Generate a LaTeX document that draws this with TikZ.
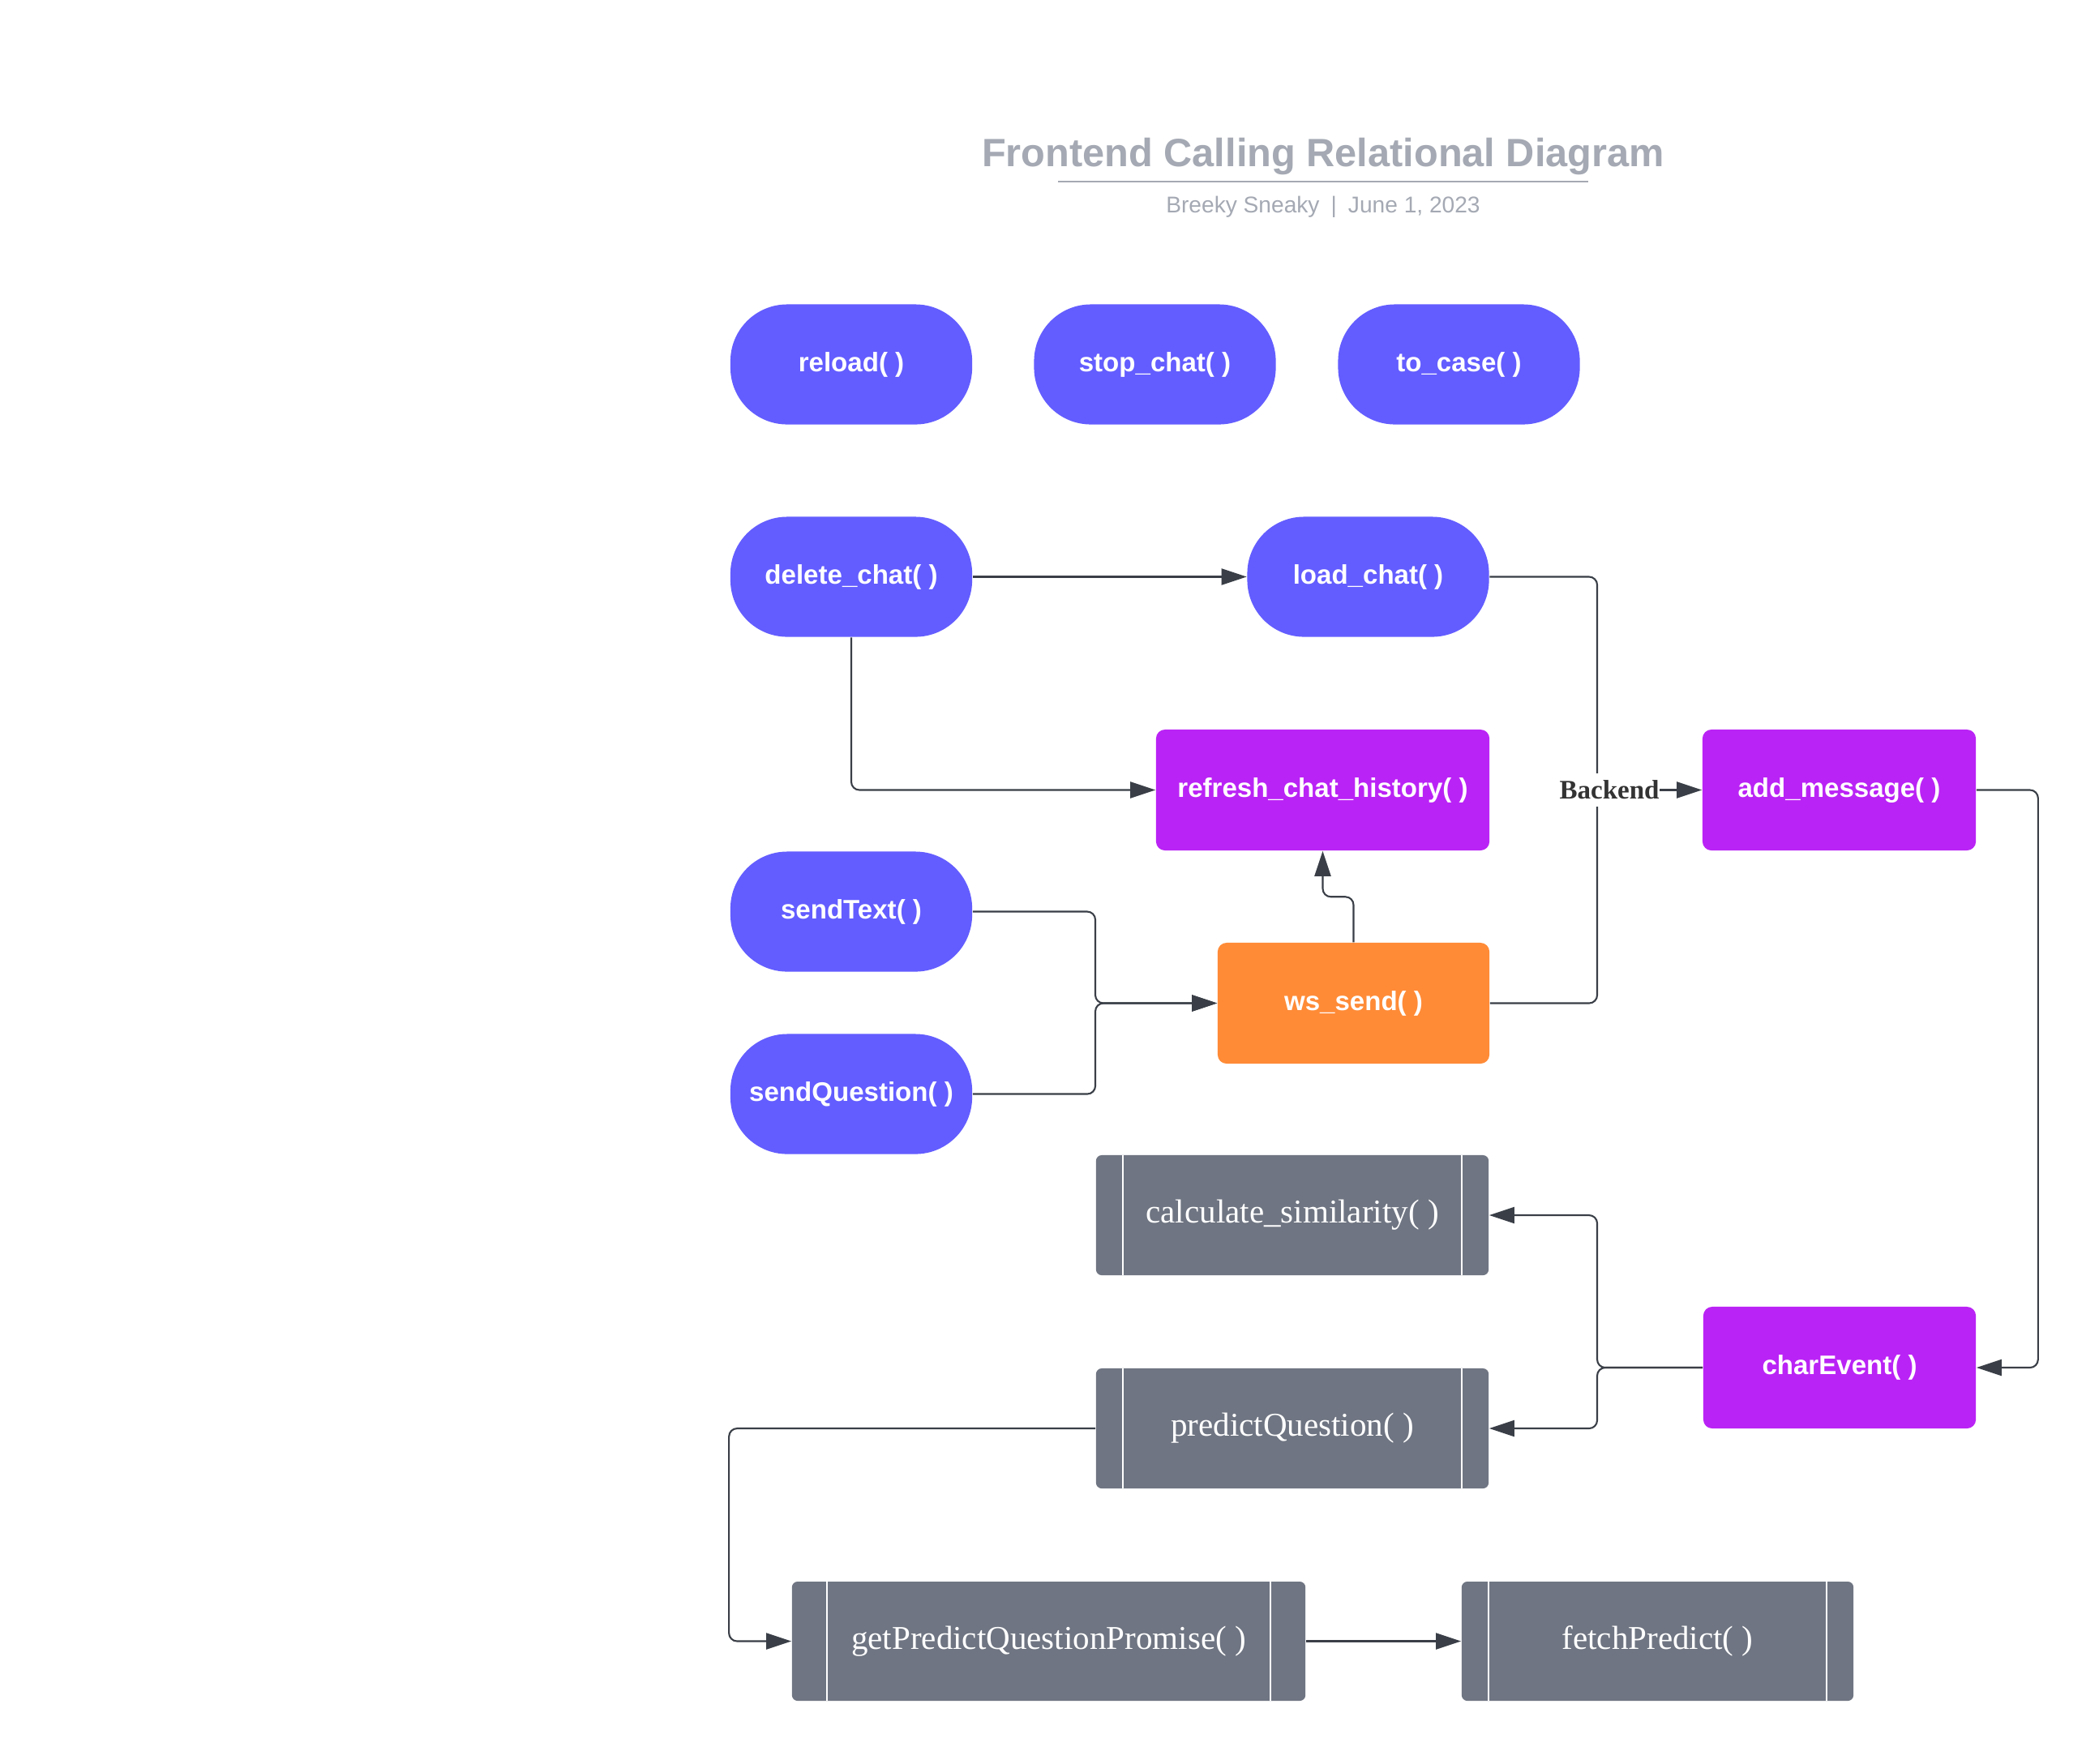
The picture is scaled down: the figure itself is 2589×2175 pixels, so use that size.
\documentclass[tikz,border=0pt]{standalone}
\usepackage{fontspec}
\setmainfont{Liberation Serif}
\newfontfamily\sansf{Liberation Sans}
\usetikzlibrary{arrows.meta}
\definecolor{cblue}{HTML}{635DFF}
\definecolor{cpurple}{HTML}{BA23F5}
\definecolor{corange}{HTML}{FF8B37}
\definecolor{cgray}{HTML}{6F7582}
\definecolor{cline}{HTML}{3A3F47}
\definecolor{ctitle}{HTML}{A4A9B3}
\begin{document}
\begin{tikzpicture}[x=0.01cm,y=-0.01cm,
  lbl/.style={text=white, font=\sansf\bfseries\fontsize{9.4pt}{11pt}\selectfont, inner sep=0pt},
  pill/.style={lbl, fill=cblue, rounded corners=0.7cm, minimum width=2.98cm, minimum height=1.48cm},
  pbox/.style={lbl, fill=cpurple, rounded corners=0.11cm, minimum height=1.49cm},
  obox/.style={lbl, fill=corange, rounded corners=0.11cm, minimum height=1.49cm},
  gbox/.style={fill=cgray, rounded corners=0.07cm, minimum height=1.48cm, inner sep=0pt, text=white,
    font=\fontsize{11.67pt}{14pt}\selectfont,
    path picture={\draw[white, line width=0.6pt]
      ([xshift=#1]path picture bounding box.north west) -- ([xshift=#1]path picture bounding box.south west)
      ([xshift=-#1]path picture bounding box.north east) -- ([xshift=-#1]path picture bounding box.south east);}},
  gbox/.default=0.33cm,
  conn/.style={draw=cline, line width=0.6pt, rounded corners=0.1cm},
  arr/.style={conn, -{Triangle[length=0.31cm,width=0.2cm]}},
  tt/.style={text=ctitle, inner sep=0pt}
]
\fill[white] (0,0) rectangle (2589,2175);
\useasboundingbox (0,0) rectangle (2589,2175);

% title
\node[tt, font=\sansf\bfseries\fontsize{13.85pt}{16pt}\selectfont] (title) at (1632,193) {Frontend Calling Relational Diagram};
\coordinate (ul1) at (1305,224);
\coordinate (ul2) at (1959,224);
\draw[ctitle, line width=0.8pt] (ul1) -- (ul2);
\node[tt, font=\sansf\fontsize{8pt}{10pt}\selectfont] (subtitle) at (1632,255) {Breeky Sneaky\enspace|\enspace June 1, 2023};

% blue pills
\node[pill] (reload) at (1050,449.5) {reload( )};
\node[pill] (stopchat) at (1424.5,449.5) {stop\_chat( )};
\node[pill] (tocase) at (1799.5,449.5) {to\_case( )};
\node[pill] (delete) at (1050,711.5) {delete\_chat( )};
\node[pill] (load) at (1687.5,711.5) {load\_chat( )};
\node[pill] (sendtext) at (1050,1124.5) {sendText( )};
\node[pill] (sendq) at (1050,1349.5) {sendQuestion( )};

% purple / orange boxes
\node[pbox, minimum width=4.11cm] (refresh) at (1631.5,974.5) {refresh\_chat\_history( )};
\node[pbox, minimum width=3.37cm] (addmsg) at (2268.5,974.5) {add\_message( )};
\node[pbox, minimum width=3.36cm, minimum height=1.50cm] (charev) at (2269,1687) {charEvent( )};
\node[obox, minimum width=3.35cm] (wssend) at (1669.5,1237.5) {ws\_send( )};

% gray boxes
\node[gbox, minimum width=4.84cm] (calc) at (1594,1499) {calculate\_similarity( )};
\node[gbox, minimum width=4.84cm] (predq) at (1594,1762) {predictQuestion( )};
\node[gbox=0.43cm, minimum width=6.33cm, minimum height=1.47cm] (getpq) at (1293.5,2024.5) {getPredictQuestionPromise( )};
\node[gbox, minimum width=4.83cm, minimum height=1.47cm] (fetch) at (2044.5,2024.5) {fetchPredict( )};

% junction coordinates
\coordinate (bk) at (1970,974.5);
\coordinate (mj) at (1351,1237.5);
\coordinate (cj) at (1970,1687);

% connectors
\draw[arr] (delete.east) -- (load.west);
\draw[arr] (delete.south) |- (refresh.west);
\draw[conn] (load.east) -| (bk) |- (wssend.east);
\draw[arr] (wssend.north) -- ++(0,-56) -| (refresh.south);
\draw[arr] (sendtext.east) -| (mj) -- (wssend.west);
\draw[arr] (sendq.east) -| (mj) -- (wssend.west);
\draw[arr] (addmsg.east) -- ++(76,0) |- (charev.east);
\draw[arr] (charev.west) -- (cj) |- (calc.east);
\draw[arr] (charev.west) -- (cj) |- (predq.east);
\draw[arr] (predq.west) -- ++(-452,0) |- (getpq.west);
\draw[arr] (getpq.east) -- (fetch.west);

% backend label
\node[fill=white, inner xsep=0pt, inner ysep=0.09cm, text=black!80, font=\bfseries\fontsize{9.4pt}{11pt}\selectfont] (backend) at (1985,974.5) {Backend};
\draw[arr] (backend.east) -- (addmsg.west);
\end{tikzpicture}
\end{document}
